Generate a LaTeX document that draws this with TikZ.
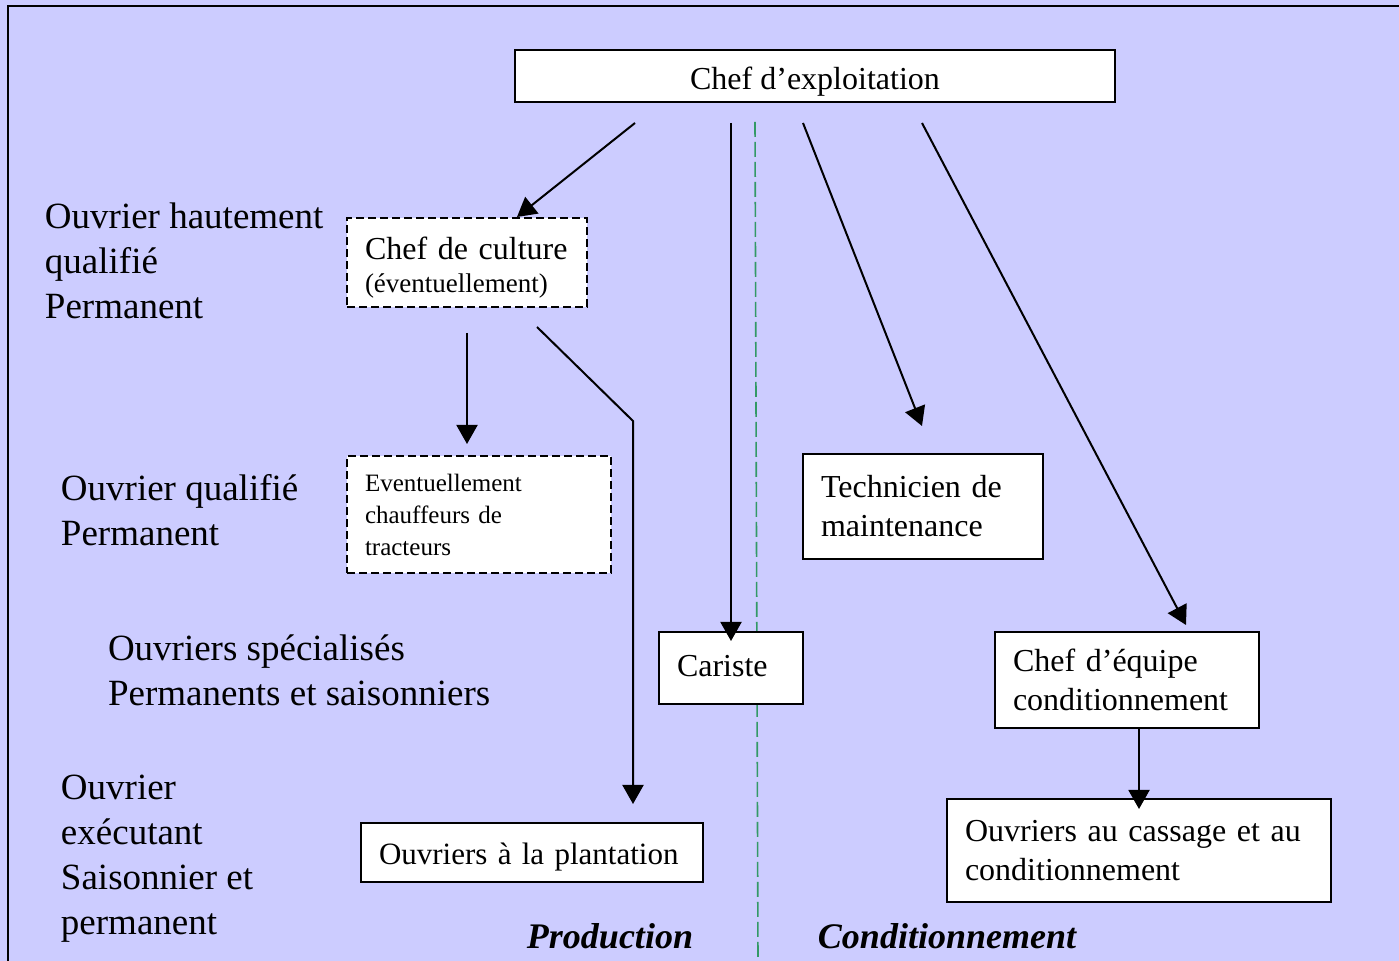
\documentclass[tikz,border=0pt]{standalone}
\usepackage{fontspec}
\setmainfont{Liberation Serif}
\usetikzlibrary{arrows.meta}
\definecolor{lavande}{HTML}{CCCCFF}
\definecolor{vertsep}{HTML}{339966}
\begin{document}
\begin{tikzpicture}[x=0.5pt,y=-0.5pt, line width=1pt, >={Triangle[length=9.5pt,width=10.5pt]},
  poste/.style={draw, fill=white, inner xsep=9pt, inner ysep=0pt, align=left, font=\fontsize{16}{19.5}\selectfont},
  poste pointille/.style={poste, dash pattern=on 4pt off 2pt},
  niveau/.style={anchor=west, inner sep=0pt, align=left, font=\fontsize{18.5}{22.5}\selectfont},
  secteur/.style={inner sep=0pt, font=\fontsize{18}{22}\selectfont\bfseries\itshape}]
\fill[lavande] (0,0) rectangle (1399,961);
\useasboundingbox (0,0) rectangle (1399,961);
\draw (8,961) -- (8,6) -- (1399,6);
\draw[vertsep, line width=0.8pt, dash pattern=on 7.5pt off 2.5pt] (755,122) -- (758,961);
\node[poste, minimum width=300pt, minimum height=26pt, align=center, text height=14pt, text depth=0pt] (chef) at (815,76) {Chef d’exploitation};
\node[poste pointille, text width=102pt, minimum height=44.5pt] (culture) at (467,262.5) {\rule{0pt}{16pt}Chef de culture\\[-3pt]{\fontsize{13.5}{17}\selectfont (éventuellement)}};
\node[poste pointille, text width=114pt, minimum height=58.5pt, font=\fontsize{12.5}{16}\selectfont] (chauffeurs) at (479,514.5) {Eventuellement\\chauffeurs de\\tracteurs};
\node[poste, text width=102pt, minimum height=52.5pt] (tech) at (923,506.5) {Technicien de\\maintenance};
\node[poste, text width=54pt, minimum height=36pt, text depth=2pt] (cariste) at (731,668) {Cariste};
\node[poste, text width=114pt, minimum height=48pt] (equipe) at (1127,680) {Chef d’équipe\\conditionnement};
\node[poste, text width=153pt, minimum height=29.5pt, text height=14pt, text depth=2pt, font=\fontsize{15.5}{19}\selectfont] (plantation) at (532,852.5) {Ouvriers à la plantation};
\node[poste, text width=174pt, minimum height=51.5pt] (cassage) at (1139,850.5) {Ouvriers au cassage et au\\conditionnement};
\coordinate (coude) at (633,421);
\draw[->] ([xshift=-90pt,yshift=-10pt]chef.south) -- ([xshift=25pt]culture.north);
\draw[->] ([xshift=-42pt,yshift=-10pt]chef.south) -- ([yshift=-5pt]cariste.north);
\draw[->] ([xshift=-6pt,yshift=-10pt]chef.south) -- ([xshift=-0.5pt,yshift=13.5pt]tech.north);
\draw[->] ([xshift=53.5pt,yshift=-10pt]chef.south) -- ([xshift=29.5pt,yshift=3pt]equipe.north);
\draw[->] ([yshift=-12.5pt]culture.south) -- ([xshift=-6pt,yshift=5.5pt]chauffeurs.north);
\draw[->] ([xshift=35pt,yshift=-9.5pt]culture.south) -- (coude) -- ([xshift=50.5pt,yshift=9pt]plantation.north);
\draw[->] (equipe.south -| cassage.north) -- ([yshift=-5.5pt]cassage.north);
\node[niveau] (hautqual) at (44,260.5) {Ouvrier hautement\\qualifié\\Permanent};
\node[niveau] (qual) at (60,510.5) {Ouvrier qualifié\\Permanent};
\node[niveau] (spec) at (107,670.5) {Ouvriers spécialisés\\Permanents et saisonniers};
\node[niveau] (exec) at (60,859) {Ouvrier\\exécutant\\Saisonnier et\\permanent};
\node[secteur] (prod) at (610,936) {Production};
\node[secteur] (cond) at (947,936) {Conditionnement};
\end{tikzpicture}
\end{document}
